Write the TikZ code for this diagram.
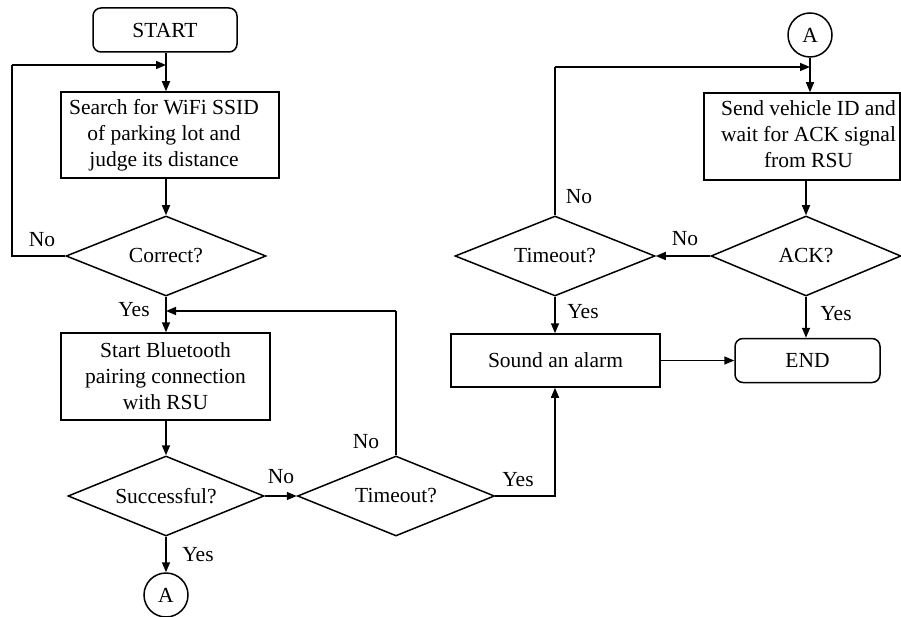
\documentclass[tikz,border=0pt]{standalone}
\usepackage{fontspec}
\setmainfont{Liberation Serif}
\usetikzlibrary{shapes.geometric,arrows.meta}
\begin{document}
\begin{tikzpicture}[x=1pt,y=-1pt,
  every node/.style={font=\fontsize{21.5}{26}\selectfont},
  box/.style={draw,line width=1.5pt,align=center,inner sep=0pt},
  term/.style={box,rounded corners=8pt},
  dec/.style={draw,line width=1.5pt,diamond,inner sep=0pt},
  conn/.style={draw,line width=1.5pt,circle,minimum size=44pt,inner sep=0pt},
  line/.style={line width=1.5pt},
  arr/.style={line width=1.5pt,-{Triangle[length=10pt,width=8pt]}},
  lab/.style={inner sep=0pt}
]
\useasboundingbox (0,0) rectangle (901,617);
% nodes
\node[term,minimum width=144pt,minimum height=44pt] (start) at (165,30) {START};
\node[box,minimum width=218pt,minimum height=86pt] (search) at (170,135) {\begin{tabular}{@{}c@{}}Search for WiFi SSID\\of parking lot and\\judge its distance\end{tabular}\hspace{12pt}};
\node[dec,minimum width=200pt,minimum height=80pt] (correct) at (166,256) {\makebox[0pt]{Correct?}};
\node[box,minimum width=209pt,minimum height=87pt] (bt) at (165.5,376.5) {Start Bluetooth\\pairing connection\\with RSU};
\node[dec,minimum width=196pt,minimum height=80pt] (succ) at (166,496) {\makebox[0pt]{Successful?}};
\node[conn] (a1) at (166,595) {A};
\node[dec,minimum width=197pt,minimum height=80pt] (to1) at (396,496) {\makebox[0pt]{Timeout?}};
\node[box,minimum width=209pt,minimum height=53pt] (alarm) at (555.5,360.5) {Sound an alarm};
\node[term,minimum width=145pt,minimum height=44pt] (end) at (807.5,360.5) {END};
\node[conn] (a2) at (810,35) {A};
\node[box,minimum width=196pt,minimum height=87pt] (send) at (802,136.5) {\hspace{13pt}\begin{tabular}{@{}c@{}}Send vehicle ID and\\wait for ACK signal\\from RSU\end{tabular}};
\node[dec,minimum width=190pt,minimum height=80pt] (ack) at (806,256) {\makebox[0pt]{ACK?}};
\node[dec,minimum width=200pt,minimum height=80pt] (to2) at (555,256) {\makebox[0pt]{Timeout?}};
% helper coordinates
\coordinate (m1) at (166,65);
\coordinate (l1) at (12,256);
\coordinate (l1t) at (12,65);
\coordinate (m2) at (166,311);
\coordinate (r1) at (396,311);
\coordinate (m3) at (810,67);
\coordinate (r2) at (555,67);
% connectors
\draw[arr] (start.south -| m1) -- (search.north -| m1);
\draw[arr] (search.south -| m1) -- (correct.north);
\draw[line] (correct.west) -- (l1) -- (l1t);
\draw[arr] (l1t) -- (m1);
\draw[arr] (correct.south) -- (bt.north -| m2);
\draw[arr] (bt.south -| m2) -- (succ.north);
\draw[arr] (succ.south) -- (a1.north);
\draw[arr] (succ.east) -- (to1.west);
\draw[line] (to1.north) -- (r1);
\draw[arr] (r1) -- (m2);
\draw[arr] (to1.east) -| (alarm.south -| to2.south);
\draw[arr] (a2.south) -- (send.north -| a2.south);
\draw[line] (to2.north) -- (r2);
\draw[arr] (r2) -- (m3);
\draw[arr] (send.south -| ack.north) -- (ack.north);
\draw[arr] (ack.west) -- (to2.east);
\draw[arr] (to2.south) -- (alarm.north -| to2.south);
\draw[arr] (ack.south) -- (end.north -| ack.south);
\draw[arr] (alarm.east) -- (end.west);
% labels
\node[lab] (n1) at (42,240) {No};
\node[lab] (y1) at (134,310) {Yes};
\node[lab] (n2) at (281,477) {No};
\node[lab] (y2) at (198,555) {Yes};
\node[lab] (n3) at (366,442) {No};
\node[lab] (y3) at (518,480) {Yes};
\node[lab] (n4) at (579,197) {No};
\node[lab] (n5) at (685,239) {No};
\node[lab] (y4) at (583,312) {Yes};
\node[lab] (y5) at (836,314) {Yes};
\end{tikzpicture}
\end{document}
